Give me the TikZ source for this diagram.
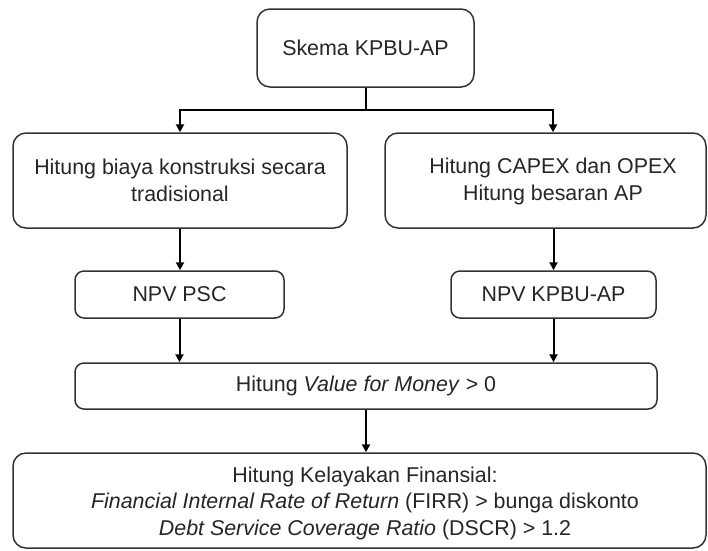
\documentclass[tikz,border=0pt]{standalone}
\usepackage{fontspec}
\setmainfont{Liberation Sans}
\usetikzlibrary{arrows.meta}
\begin{document}
\begin{tikzpicture}[x=1pt,y=-1pt,
  box/.style={draw=black!80, line width=1.5pt, rounded corners=13pt, fill=white,
    align=center, inner sep=0pt, text=black!85,
    font=\fontsize{21.4}{26.5}\selectfont},
  smallbox/.style={box, rounded corners=9pt},
  label/.style={align=center, inner sep=0pt, text=black!85,
    font=\fontsize{21.4}{26.5}\selectfont},
  link/.style={draw=black, line width=2pt},
  arrow/.style={link, -{Triangle[length=8pt,width=8pt]}}]
  \useasboundingbox (0,0) rectangle (708,550);
  \clip (0,0) rectangle (708,550);
  \fill[white] (0,0) rectangle (708,550);

  % boxes
  \node[box, minimum width=217pt, minimum height=78pt] (skema) at (365.5,48) {Skema KPBU-AP};
  \node[box, minimum width=334pt, minimum height=95pt] (trad) at (180,180.5)
    {Hitung biaya konstruksi secara\\tradisional};
  \node[box, minimum width=321pt, minimum height=95pt] (capex) at (545.5,180.5) {};
  \node[label] (capextxt) at (553,181.5) {Hitung CAPEX dan OPEX\\Hitung besaran AP};
  \node[smallbox, minimum width=209pt, minimum height=47pt] (psc) at (179.5,294.5) {NPV PSC};
  \node[smallbox, minimum width=205pt, minimum height=47pt] (npvap) at (553.5,294.5) {NPV KPBU-AP};
  \node[smallbox, minimum width=582pt, minimum height=46pt] (vfm) at (366,386)
    {Hitung \textit{Value for Money} > 0};
  \node[box, minimum width=693pt, minimum height=95pt] (fin) at (359.5,500.5) {};
  \node[label] (fintxt) at (365,503)
    {Hitung Kelayakan Finansial:\\
     \textit{Financial Internal Rate of Return} (FIRR) > bunga diskonto\\
     \textit{Debt Service Coverage Ratio} (DSCR) > 1.2};

  % connectors
  \coordinate (jl) at (180,110);
  \coordinate (jr) at (553,110);
  \draw[link] (skema.south) -- (skema.south |- jl);
  \draw[link, line cap=rect] (jl) -- (jr);
  \draw[arrow] (jl) -- (trad.north);
  \draw[arrow] (jr) -- (jr |- capex.north);
  \draw[arrow] (trad.south) -- (trad.south |- psc.north);
  \draw[arrow] (npvap.north |- capex.south) -- (npvap.north);
  \draw[arrow] (psc.south) -- (psc.south |- vfm.north);
  \draw[arrow] (npvap.south) -- (npvap.south |- vfm.north);
  \draw[arrow] (vfm.south) -- (vfm.south |- fin.north);
\end{tikzpicture}
\end{document}
